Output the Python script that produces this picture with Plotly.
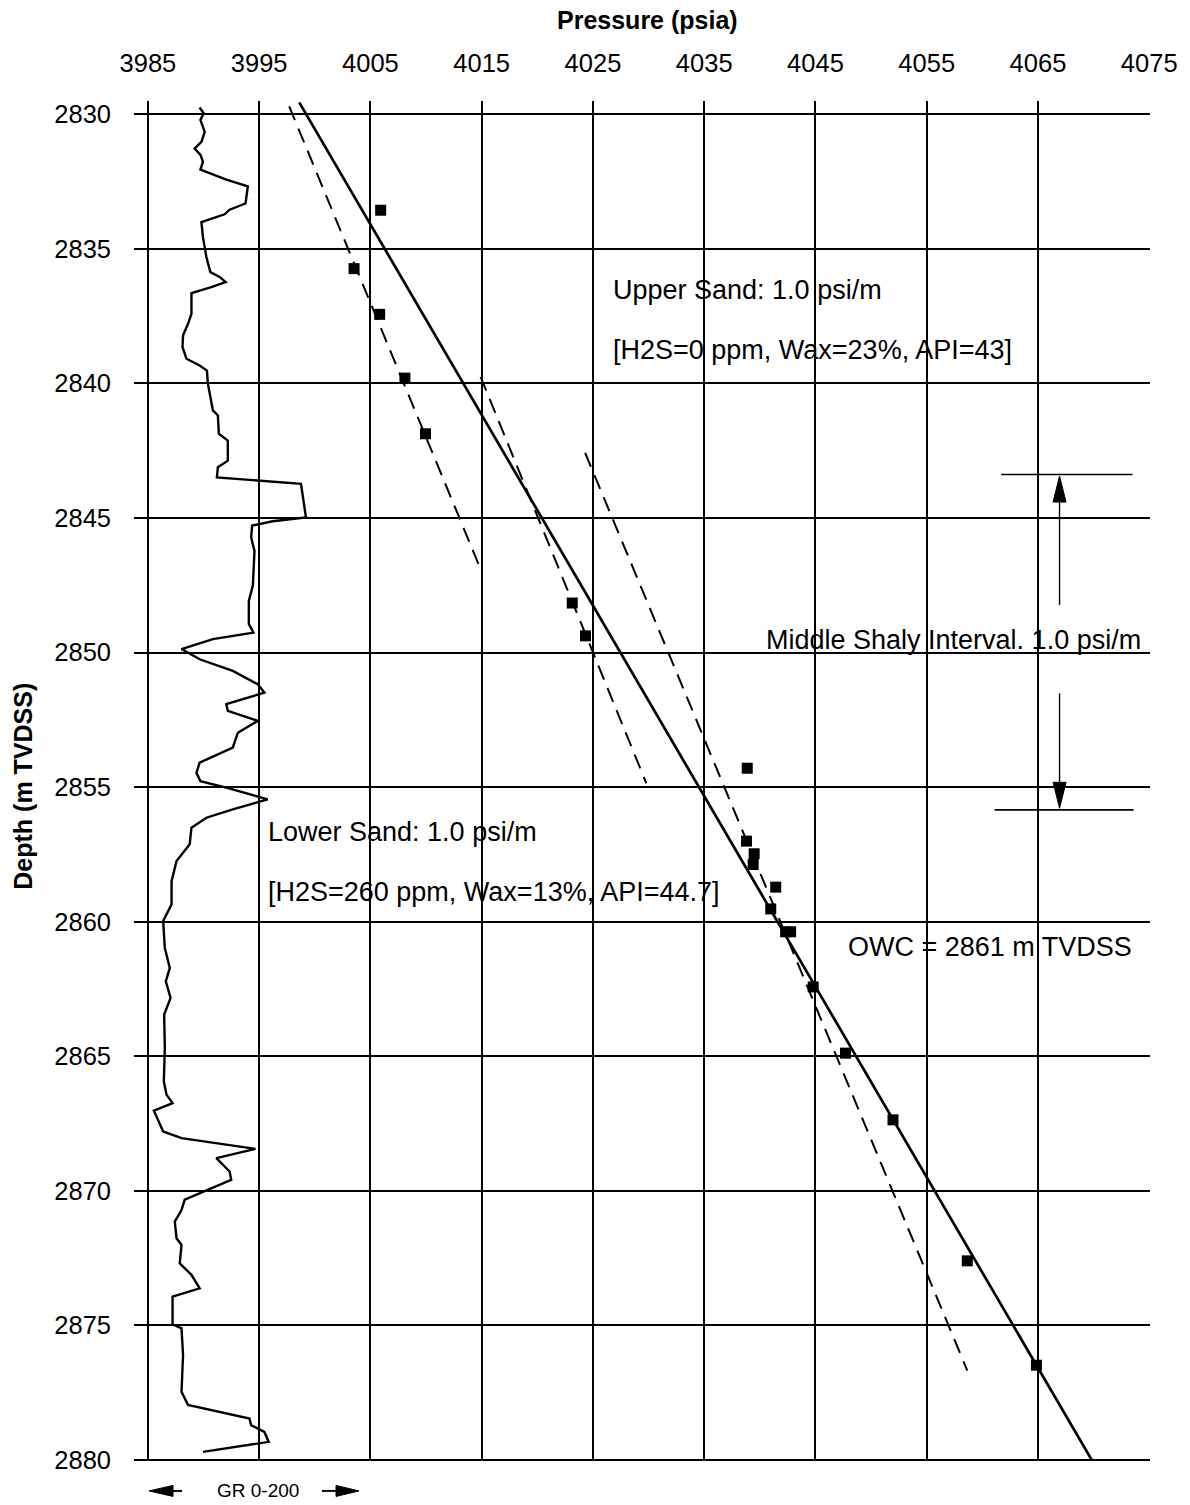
import plotly.graph_objects as go

# ---------------- data ----------------
# RFT pressure points
pressure_psia = [4005.92, 4003.53, 4005.83, 4008.10, 4009.95, 4023.14, 4024.33,
                 4038.87, 4038.80, 4039.49, 4039.40, 4041.43, 4040.98, 4042.32,
                 4042.77, 4044.80, 4047.70, 4051.97, 4058.65, 4064.86]
depth_m = [2833.56, 2835.73, 2837.43, 2839.80, 2841.87, 2848.16, 2849.38,
           2854.30, 2857.01, 2857.48, 2857.88, 2858.72, 2859.53, 2860.38,
           2860.38, 2862.43, 2864.89, 2867.37, 2872.61, 2876.49]

# Gradient lines (end points)
overall_p = [3998.6, 4070.1]
overall_d = [2829.55, 2880.2]
upper_p = [3997.7, 4014.9]
upper_d = [2829.7, 2846.9]
mid_left_p = [4014.9, 4029.8]
mid_left_d = [2839.75, 2854.86]
mid_right_p = [4024.3, 4058.65]
mid_right_d = [2842.58, 2876.69]

# Gamma-ray log (GR 0-200)
gr_depth_m = [2829.74, 2829.96, 2830.20, 2830.65, 2831.02, 2831.27, 2831.51, 2831.76,
              2832.05, 2832.42, 2832.67, 2833.31, 2833.54, 2833.71, 2834.00, 2834.56,
              2835.30, 2835.86, 2836.04, 2836.23, 2836.42, 2836.64, 2837.41, 2837.78,
              2838.21, 2838.65, 2839.08, 2839.33, 2839.52, 2840.01, 2841.00, 2841.19,
              2841.87, 2842.12, 2842.87, 2843.11, 2843.49, 2843.73, 2844.98, 2845.12,
              2845.28, 2845.72, 2846.22, 2847.50, 2848.08, 2848.94, 2849.26, 2849.50,
              2849.87, 2850.25, 2850.68, 2851.18, 2851.49, 2851.92, 2852.17, 2852.54,
              2852.98, 2853.53, 2854.09, 2854.47, 2854.78, 2855.02, 2855.46, 2855.83,
              2856.14, 2856.51, 2857.13, 2857.75, 2858.50, 2859.36, 2859.98, 2860.98,
              2861.72, 2862.22, 2862.84, 2863.46, 2864.70, 2865.94, 2866.43, 2866.75,
              2867.03, 2867.80, 2868.05, 2868.45, 2868.79, 2869.29, 2869.60, 2870.10,
              2870.34, 2870.72, 2871.15, 2871.77, 2872.02, 2872.70, 2873.13, 2873.63,
              2873.94, 2874.97, 2875.12, 2876.11, 2877.48, 2877.97, 2878.47, 2878.72,
              2878.97, 2879.34, 2879.71]
gr_api = [46.8, 50.5, 47.5, 51.4, 48.4, 42.3, 47.7, 49.8,
          47.5, 70.9, 90.4, 88.3, 73.9, 69.4, 48.4, 49.8,
          52.9, 56.5, 64.9, 70.3, 57.4, 39.4, 39.4, 36.3,
          31.8, 31.3, 34.9, 46.8, 53.4, 54.3, 58.8, 63.3,
          64.2, 72.3, 72.3, 63.3, 62.4, 138.5, 143.0, 112.9,
          94.3, 93.4, 96.4, 95.0, 91.3, 91.3, 95.5, 58.8,
          30.4, 46.8, 76.8, 99.4, 105.4, 70.9, 72.3, 99.4,
          81.4, 76.8, 46.8, 43.9, 47.5, 70.9, 108.4, 76.8,
          52.9, 39.4, 37.8, 25.9, 21.4, 21.4, 13.8, 15.3,
          19.8, 16.2, 20.5, 14.7, 15.3, 14.4, 16.8, 22.3,
          5.4, 13.8, 30.4, 97.3, 61.9, 73.9, 75.4, 46.8,
          33.3, 30.4, 24.3, 25.9, 30.4, 28.8, 39.4, 46.8,
          22.3, 22.3, 30.4, 31.8, 30.4, 36.3, 91.9, 93.4,
          105.4, 109.3, 49.8]

x_ticks = [3985, 3995, 4005, 4015, 4025, 4035, 4045, 4055, 4065, 4075]
y_ticks = [2830, 2835, 2840, 2845, 2850, 2855, 2860, 2865, 2870, 2875, 2880]

# Middle shaly interval bounds
shaly_top_m = 2843.38
shaly_base_m = 2855.85

# ---------------- figure ----------------
FONT = "Liberation Sans, Arial, Helvetica, sans-serif"
x_range = [3983.75, 4075.07]
y_range = [2880.05, 2829.5]
# GR scale: 0 at 3985 psi gridline, 200 two grid columns to the right (~4004.9 psi)
gr_p0, gr_p200 = 3985.0, 4004.87
gr_range = [(x_range[0] - gr_p0) / (gr_p200 - gr_p0) * 200,
            (x_range[1] - gr_p0) / (gr_p200 - gr_p0) * 200]

fig = go.Figure()

fig.add_trace(go.Scatter(x=gr_api, y=gr_depth_m, xaxis="x2", yaxis="y", mode="lines",
                         line=dict(color="black", width=2.4), showlegend=False))

dash = "15px,9px"
for px_, dy_, ds, w in [(upper_p, upper_d, dash, 2.0),
                        (mid_left_p, mid_left_d, dash, 2.0),
                        (mid_right_p, mid_right_d, dash, 2.0),
                        (overall_p, overall_d, "solid", 2.7)]:
    fig.add_trace(go.Scatter(x=px_, y=dy_, mode="lines",
                             line=dict(color="black", width=w, dash=ds), showlegend=False))

fig.add_trace(go.Scatter(x=pressure_psia, y=depth_m, mode="markers",
                         marker=dict(symbol="square", size=11, color="black"),
                         showlegend=False))

txt = dict(size=27, color="black", family=FONT)
annotations = [
    dict(x=4026.63, y=2836.53, text="Upper Sand: 1.0 psi/m"),
    dict(x=4026.63, y=2838.76, text="[H2S=0 ppm, Wax=23%, API=43]"),
    dict(x=4040.39, y=2849.54, text="Middle Shaly Interval. 1.0 psi/m"),
    dict(x=3995.63, y=2856.66, text="Lower Sand: 1.0 psi/m"),
    dict(x=3995.63, y=2858.89, text="[H2S=260 ppm, Wax=13%, API=44.7]"),
    dict(x=4047.79, y=2860.93, text="OWC = 2861 m TVDSS"),
]
annotations = [dict(a, xref="x", yref="y", xanchor="left", yanchor="middle",
                    showarrow=False, font=txt) for a in annotations]

annotations.append(dict(xref="paper", yref="paper", x=0.505, y=1.0596,
                        text="<b>Pressure (psia)</b>", showarrow=False,
                        xanchor="center", yanchor="middle",
                        font=dict(size=25, color="black", family=FONT)))
annotations.append(dict(xref="paper", yref="paper", x=-0.109, y=0.496,
                        text="<b>Depth (m TVDSS)</b>", showarrow=False, textangle=-90,
                        xanchor="center", yanchor="middle",
                        font=dict(size=25, color="black", family=FONT)))
annotations.append(dict(xref="x2", yref="paper", x=100, y=-0.022,
                        text="GR 0-200", showarrow=False,
                        xanchor="center", yanchor="middle",
                        font=dict(size=19, color="black", family=FONT)))

arrow_x = 4066.94
shapes = [
    dict(type="line", xref="x", yref="y", x0=4061.7, x1=4073.5, y0=shaly_top_m, y1=shaly_top_m,
         line=dict(color="black", width=1.6)),
    dict(type="line", xref="x", yref="y", x0=4061.1, x1=4073.6, y0=shaly_base_m, y1=shaly_base_m,
         line=dict(color="black", width=1.6)),
    dict(type="line", xref="x", yref="y", x0=arrow_x, x1=arrow_x, y0=2848.23, y1=2844.3,
         line=dict(color="black", width=1.4)),
    dict(type="line", xref="x", yref="y", x0=arrow_x, x1=arrow_x, y0=2851.52, y1=2855.0,
         line=dict(color="black", width=1.4)),
    dict(type="path", xref="x", yref="y", xsizemode="pixel", ysizemode="pixel",
         xanchor=arrow_x, yanchor=shaly_top_m + 0.06, path="M0,0 L-6.5,-26 L6.5,-26 Z",
         fillcolor="black", line=dict(color="black", width=1)),
    dict(type="path", xref="x", yref="y", xsizemode="pixel", ysizemode="pixel",
         xanchor=arrow_x, yanchor=shaly_base_m - 0.06, path="M0,0 L-6.5,26 L6.5,26 Z",
         fillcolor="black", line=dict(color="black", width=1)),
    # GR scale arrows
    dict(type="path", xref="x2", yref="paper", xsizemode="pixel", ysizemode="pixel",
         xanchor=1, yanchor=-0.022, path="M0,0 L24,5.5 L24,-5.5 Z",
         fillcolor="black", line=dict(color="black", width=1)),
    dict(type="path", xref="x2", yref="paper", xsizemode="pixel", ysizemode="pixel",
         xanchor=1, yanchor=-0.022, path="M20,0 L33,0",
         line=dict(color="black", width=2)),
    dict(type="path", xref="x2", yref="paper", xsizemode="pixel", ysizemode="pixel",
         xanchor=191, yanchor=-0.022, path="M0,0 L-23,5.5 L-23,-5.5 Z",
         fillcolor="black", line=dict(color="black", width=1)),
    dict(type="path", xref="x2", yref="paper", xsizemode="pixel", ysizemode="pixel",
         xanchor=191, yanchor=-0.022, path="M-20,0 L-37,0",
         line=dict(color="black", width=2)),
]

tickfont = dict(size=25.5, color="black", family=FONT)
fig.update_layout(
    width=1190, height=1505,
    margin=dict(l=134, r=36, t=101, b=44, pad=0),
    paper_bgcolor="white", plot_bgcolor="white",
    font=dict(family=FONT, color="black"),
    showlegend=False,
    hovermode=False,
    xaxis=dict(range=x_range, side="top", tickmode="array", tickvals=x_ticks,
               ticktext=[str(v) for v in x_ticks], showgrid=True, gridcolor="black",
               gridwidth=1.8, zeroline=False, showline=False, ticks="",
               tickfont=tickfont, ticklabelstandoff=23),
    xaxis2=dict(range=gr_range, overlaying="x", visible=False, showgrid=False,
                zeroline=False),
    yaxis=dict(range=y_range, tickmode="array", tickvals=y_ticks,
               ticktext=[str(v) for v in y_ticks], showgrid=True, gridcolor="black",
               gridwidth=1.8, zeroline=False, showline=False, ticks="",
               tickfont=tickfont, ticklabelstandoff=22),
    annotations=annotations,
    shapes=shapes,
)

# remove the default 8px page margin so the figure fills the window exactly
fig.write_html("out.html", config={"displayModeBar": False},
               post_script="document.body.style.margin='0';document.body.style.overflow='hidden';")
